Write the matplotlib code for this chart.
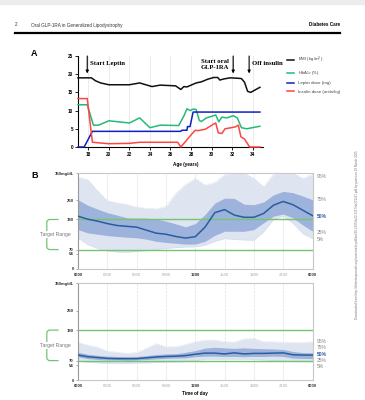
import numpy as np
import matplotlib
matplotlib.use("Agg")
import matplotlib.pyplot as plt
from matplotlib.path import Path
from matplotlib.patches import PathPatch
import matplotlib.transforms as mtransforms

plt.rcParams['font.family'] = ['Liberation Sans', 'DejaVu Sans']

# ---- panel A data ----
bmi_age = [17.0, 18.3, 18.7, 19.2, 20.0, 22.0, 23.0, 24.2, 25.0, 26.5, 27.0, 27.3, 27.6,
           28.0, 28.5, 29.0, 29.6, 30.2, 30.6, 30.8, 31.2, 31.8, 32.5, 32.9, 33.2, 33.5,
           33.8, 34.7]
bmi = [19.0, 19.0, 18.2, 17.6, 17.1, 17.1, 17.6, 16.6, 17.0, 16.8, 15.8, 16.6, 16.5,
       17.0, 17.6, 17.9, 18.6, 19.1, 19.1, 18.4, 18.7, 19.0, 18.9, 18.8, 17.8, 15.3,
       15.0, 16.4]

hba1c_age = [17.0, 17.9, 18.5, 19.0, 20.0, 22.0, 23.0, 24.0, 25.0, 26.8, 27.3, 27.6,
             27.9, 28.2, 28.5, 28.8, 29.0, 29.5, 30.2, 30.4, 30.7, 31.0, 31.5, 32.1,
             32.5, 32.9, 33.4, 34.7]
hba1c = [11.6, 11.6, 6.0, 6.0, 7.2, 6.6, 8.0, 5.3, 6.0, 5.9, 8.5, 10.5,
         10.0, 10.4, 10.3, 7.3, 7.0, 8.0, 8.6, 8.8, 6.9, 8.2, 8.0, 8.6,
         8.0, 5.3, 5.0, 5.7]

leptin_age = [17.0, 17.6, 18.4, 27.0, 27.1, 27.6, 27.65, 27.9, 28.2, 34.7]
leptin = [0.0, 0.0, 4.3, 4.3, 4.6, 4.6, 5.6, 5.6, 9.6, 9.6]

insulin_age = [17.0, 17.9, 18.4, 20.0, 22.0, 23.0, 26.7, 27.0, 27.4, 27.9, 28.4, 28.7,
               29.4, 30.2, 30.4, 30.65, 31.0, 31.3, 32.3, 32.6, 32.85, 33.2, 33.7, 34.7]
insulin = [13.3, 13.3, 1.3, 0.9, 1.0, 1.3, 1.3, 0.0, 1.3, 3.0, 4.6, 4.5,
           4.9, 6.3, 6.6, 3.9, 3.7, 5.0, 5.5, 6.0, 2.8, 2.2, 0.0, 0.0]

series_names = ["BMI (kg/m$^2$)", "HbA$_{1c}$ (%)", "Leptin dose (mg)", "Insulin dose (units/kg)"]
series_colors = ["#111111", "#22bb77", "#1020c0", "#ff4444"]

# ---- panel B data: hourly percentiles (mg/dL) ----
hours = list(range(25))
top_p95 = [334, 326, 285, 249, 241, 235, 225, 221, 219, 227, 275, 308, 330, 306, 315,
           344, 350, 350, 330, 300, 345, 350, 350, 330, 345]
top_p75 = [252, 232, 218, 205, 196, 186, 185, 185, 182, 174, 164, 153, 165, 198, 240,
           258, 257, 236, 234, 244, 270, 283, 278, 266, 252]
top_p50 = [192, 181, 174, 165, 158, 155, 152, 141, 130, 126, 118, 112, 117, 152, 205,
           216, 196, 188, 188, 202, 232, 246, 234, 214, 194]
top_p25 = [143, 131, 126, 121, 118, 115, 113, 108, 100, 96, 93, 90, 90, 100, 122,
           137, 137, 137, 143, 168, 192, 200, 186, 160, 137]
top_p5 = [112, 88, 74, 65, 61, 60, 63, 66, 70, 74, 77, 79, 80, 86, 100,
          110, 107, 105, 104, 135, 180, 192, 165, 128, 110]

bot_p95 = [135, 126, 118, 104, 100, 96, 99, 115, 131, 120, 120, 128, 138, 144, 144,
           138, 137, 148, 150, 138, 138, 136, 135, 135, 138]
bot_p75 = [100, 93, 89, 86, 85, 84, 85, 88, 92, 94, 95, 100, 106, 115, 118,
           116, 114, 116, 114, 113, 112, 110, 103, 99, 98]
bot_p50 = [90, 84, 81, 78, 77, 77, 77, 80, 83, 85, 86, 88, 93, 97, 97,
           94, 98, 94, 96, 96, 97, 98, 91, 90, 90]
bot_p25 = [83, 77, 74, 72, 72, 71, 72, 74, 76, 78, 79, 80, 84, 86, 86,
           85, 85, 84, 85, 85, 86, 85, 79, 78, 77]
bot_p5 = [68, 64, 62, 60, 60, 60, 61, 62, 63, 65, 65, 66, 70, 75, 75,
          75, 75, 75, 74, 72, 70, 68, 66, 66, 66]

pct_names = ["95%", "75%", "50%", "25%", "5%"]
top_label_y = [338, 254, 192, 134, 105]
bot_label_y = [138, 118, 93, 69, 50]

yticks_b = [0, 54, 70, 180, 250, 350]
ytick_labels_b = ["0", "54", "70", "180", "250", "350mg/dL"]
xtick_labels_b = ["0000", "0300", "0600", "0900", "1200", "1500", "1800", "2100", "0000"]

W, H = 365, 400
fig = plt.figure(figsize=(W / 100, H / 100), dpi=100)


def fx(px):
    return px / W


def fy(py):
    return 1 - py / H


# page header
fig.patches.append(plt.Rectangle((0, fy(4)), 1, 4 / H, transform=fig.transFigure,
                                 color="#ececec", zorder=0))
fig.text(fx(15), fy(25), "2", fontsize=3.3, va="center", color="#333333")
fig.text(fx(31), fy(25), "Oral GLP-1RA in Generalized Lipodystrophy", fontsize=3.3,
         va="center", color="#333333")
fig.text(fx(340), fy(25), "Diabetes Care", fontsize=3.3, va="center", ha="right",
         fontweight="bold")
fig.add_artist(plt.Line2D([fx(15), fx(340)], [fy(33), fy(33)], lw=1.6, color="black",
                          transform=fig.transFigure))
fig.text(fx(357), fy(235),
         "Downloaded from http://diabetesjournals.org/care/article-pdf/doi/10.2337/dc22-1217/"
         "dc221217.pdf by guest on 19 March 2025",
         fontsize=2.2, rotation=90, ha="center", va="center", color="#777777")

fig.text(fx(31), fy(53), "A", fontsize=6.5, fontweight="bold", va="center")
fig.text(fx(31), fy(176), "B", fontsize=6.5, fontweight="bold", va="center")

# ---- panel A ----
axA = fig.add_axes([fx(78), fy(147), fx(263) - fx(78), (147 - 56) / H])
for xs, ys, c in zip([bmi_age, hba1c_age, leptin_age, insulin_age],
                     [bmi, hba1c, leptin, insulin], series_colors):
    axA.plot(xs, ys, color=c, lw=1.1, clip_on=False, zorder=3)
axA.set_xlim(17, 35)
axA.set_ylim(0, 25)
axA.set_xticks(range(18, 35, 2))
axA.set_yticks(range(0, 26, 5))
axA.grid(axis="x", color="#e3e3e3", lw=0.5)
for s in ["top", "right"]:
    axA.spines[s].set_visible(False)
for s in ["left", "bottom"]:
    axA.spines[s].set_linewidth(0.8)
axA.tick_params(labelsize=3.3, length=2, width=0.6, pad=1.5)
for t in axA.get_xticklabels() + axA.get_yticklabels():
    t.set_fontweight("bold")
axA.set_xlabel("Age (years)", fontsize=3.3, fontweight="bold", labelpad=2)
axA.xaxis.set_label_coords(0.58, -0.16)

serif = ["Liberation Serif", "DejaVu Serif"]
arrow = dict(arrowstyle="-|>", lw=0.8, color="black", mutation_scale=4, shrinkA=0, shrinkB=0)
axA.annotate("", xy=(17.9, 20.2), xytext=(17.9, 25.0), arrowprops=arrow, annotation_clip=False)
axA.text(18.15, 23.0, "Start Leptin", family=serif, fontweight="bold", fontsize=4.8, va="center")
axA.annotate("", xy=(32.1, 20.2), xytext=(32.1, 25.0), arrowprops=arrow, annotation_clip=False)
axA.text(30.3, 22.7, "Start oral\nGLP-1RA", family=serif, fontweight="bold", fontsize=4.8,
         va="center", ha="center", linespacing=1.2)
axA.annotate("", xy=(33.65, 20.2), xytext=(33.65, 25.0), arrowprops=arrow, annotation_clip=False)
axA.text(33.9, 22.9, "Off insulin", family=serif, fontweight="bold", fontsize=4.8,
         va="center", clip_on=False)

handles = [plt.Line2D([], [], color=c, lw=1.1) for c in series_colors]
fig.legend(handles, series_names, loc="upper left", bbox_to_anchor=(fx(283), fy(51)),
           frameon=False, fontsize=3.2, handlelength=1.6, handletextpad=0.8,
           labelspacing=0.9, labelcolor="#444444")


# ---- panel B ----
def agp(rect, p5, p25, p50, p75, p95, label_y, xlabel=False):
    ax = fig.add_axes(rect)
    ax.fill_between(hours, p5, p95, color="#dfe4f1", lw=0, zorder=1)
    ax.plot(hours, p95, color="#c9d0e4", lw=0.5, ls=":", zorder=1)
    ax.plot(hours, p5, color="#c9d0e4", lw=0.5, ls=":", zorder=1)
    ax.fill_between(hours, p25, p75, color="#9db3dc", lw=0, zorder=2)
    ax.plot(hours, p50, color="#2a5d9f", lw=1.1, zorder=4)
    ax.axhline(180, color="#72c672", lw=1.0, zorder=3)
    ax.axhline(70, color="#72c672", lw=1.0, zorder=3)
    ax.set_xlim(0, 24)
    ax.set_ylim(0, 350)
    ax.set_xticks(range(0, 25, 3))
    ax.set_xticklabels(xtick_labels_b)
    for i, t in enumerate(ax.get_xticklabels()):
        if i in (0, 4, 8):
            t.set_color("#333333")
            t.set_fontweight("bold")
        else:
            t.set_color("#aaaaaa")
    ax.set_yticks(yticks_b)
    ax.set_yticklabels(ytick_labels_b)
    for t in ax.get_yticklabels():
        t.set_fontweight("bold")
        t.set_color("#333333")
    ax.tick_params(labelsize=3.1, length=1.5, width=0.5, pad=1.5, color="#888888")
    ax.tick_params(axis="x", length=0, pad=3)
    for x in range(3, 24, 3):
        ax.axvline(x, color="#d0d0d0", lw=0.5, ls=(0, (1, 1)), zorder=0)
    for s in ax.spines.values():
        s.set_color("#c8c8c8")
        s.set_linewidth(0.8)
    ax.spines["left"].set_color("#999999")

    for name, y in zip(pct_names, label_y):
        if name == "50%":
            ax.text(24.45, y, name, fontsize=3.6, color="#2a5d9f", fontweight="bold",
                    va="center", clip_on=False)
        else:
            ax.text(24.45, y, name, fontsize=3.6, color="#888888", va="center", clip_on=False)

    # target range bracket on the left
    tr = mtransforms.blended_transform_factory(ax.transAxes, ax.transData)
    x0, x1, r, ry = -0.133, -0.083, 0.013, 11
    verts = [(x1, 180), (x0 + r, 180), (x0, 180), (x0, 180 - ry), (x0, 70 + ry),
             (x0, 70), (x0 + r, 70), (x1, 70)]
    codes = [Path.MOVETO, Path.LINETO, Path.CURVE3, Path.CURVE3, Path.LINETO,
             Path.CURVE3, Path.CURVE3, Path.LINETO]
    ax.add_patch(PathPatch(Path(verts, codes), transform=tr, fill=False,
                           edgecolor="#72c672", lw=0.9, clip_on=False))
    ax.text(-0.098, 125, "Target Range", transform=tr, fontsize=3.6, color="#777777",
            ha="center", va="center", clip_on=False,
            bbox=dict(facecolor="white", edgecolor="none", pad=0.6))
    if xlabel:
        ax.set_xlabel("Time of day", fontsize=3.3, fontweight="bold", labelpad=2)
    return ax


bw = fx(312.5) - fx(78)
agp([fx(78), fy(268.7), bw, (268.7 - 173) / H],
    top_p5, top_p25, top_p50, top_p75, top_p95, top_label_y)
agp([fx(78), fy(380), bw, (380 - 283) / H],
    bot_p5, bot_p25, bot_p50, bot_p75, bot_p95, bot_label_y, xlabel=True)

fig.savefig("out.png", dpi=100)
